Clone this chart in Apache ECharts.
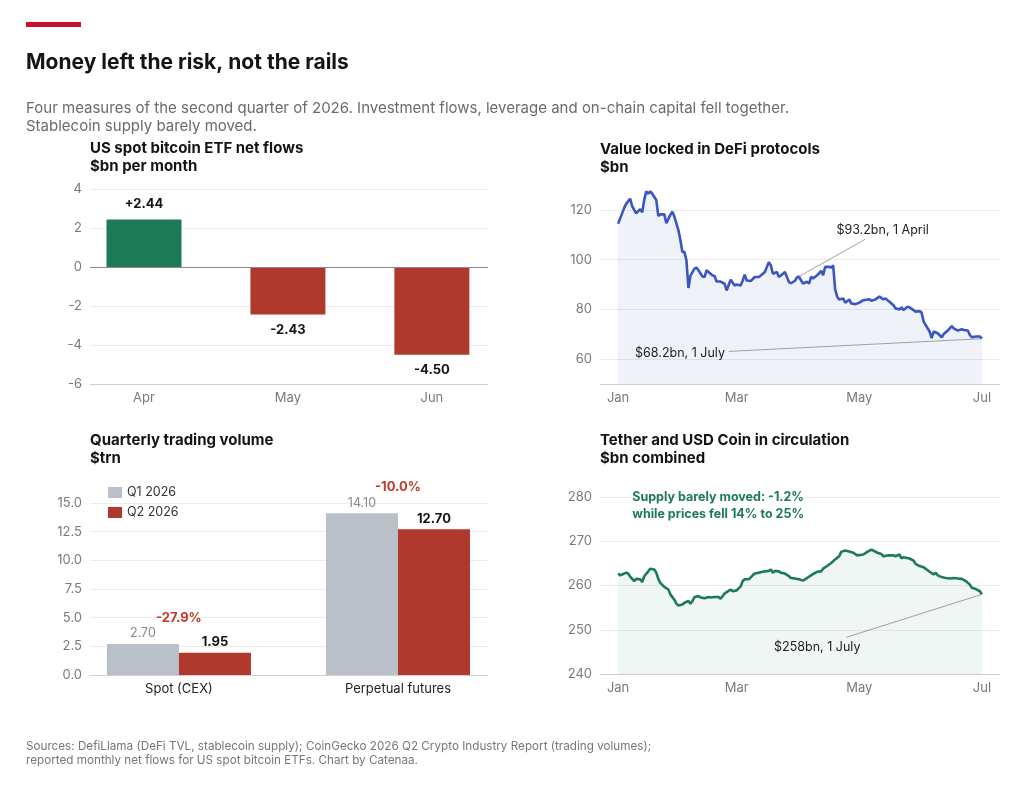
<!DOCTYPE html>
<html>
<head>
<meta charset="utf-8">
<title>Money left the risk, not the rails</title>
<style>
  html, body { margin: 0; padding: 0; background: #fff; }
  #main { width: 1024px; height: 791px; }
</style>
</head>
<body>
<div id="main"></div>
<script src="https://cdn.jsdelivr.net/npm/echarts@6/dist/echarts.min.js"></script>
<script>
// ETF net flows, $bn per month
var etfMonths = ['Apr', 'May', 'Jun'];
var etfFlows = [2.44, -2.43, -4.50];

// DeFi TVL, $bn (day = days since 1 Jan 2026)
var tvlDays = [0,2,3,4,6,7,9,11,12,13,14,15,16,17,19,20,21,23,24,26,27,28,30,31,32,33,34,35,36,38,39,40,42,43,44,46,47,48,49,51,53,54,56,58,59,61,62,63,64,66,68,70,71,73,75,76,77,79,80,81,83,85,86,88,89,90,91,92,94,95,96,97,99,100,101,102,103,105,106,107,108,109,110,112,113,115,116,118,120,122,125,126,128,130,132,133,135,137,138,140,141,142,144,145,147,148,150,151,152,154,155,156,157,159,161,162,164,166,167,169,171,172,174,175,176,178,180,181];
var tvlValues = [114.4,118.6,120.7,122.4,124.5,121.5,118.6,120.3,119.0,124.0,127.4,126.5,127.4,126.5,124.0,117.6,118.2,118.2,114.6,118.0,119.3,117.3,111.9,107.8,103.1,103.1,99.7,88.6,93.6,96.4,96.8,95.7,93.2,93.0,95.7,94.3,93.6,93.4,91.2,91.2,90.3,87.6,91.9,89.6,90.0,89.6,91.6,94.0,91.6,91.4,93.0,93.0,93.6,95.0,99.0,97.7,94.3,95.0,93.0,93.6,95.0,91.0,90.5,91.5,92.8,93.2,91.7,90.4,91.1,90.4,93.1,92.4,93.7,94.4,95.5,93.7,97.1,97.1,96.8,97.7,88.0,85.1,84.0,84.4,82.7,84.0,82.4,82.1,82.7,83.7,84.1,83.5,84.0,85.1,84.0,84.4,83.1,81.7,80.4,80.0,80.8,79.7,81.1,80.8,79.7,79.1,79.3,78.7,75.1,72.4,71.1,68.4,71.1,70.4,68.8,70.1,71.5,73.3,72.4,71.5,72.0,71.7,71.5,69.7,68.8,69.1,69.1,68.2];

// Quarterly trading volume, $trn
var volMarkets = ['Spot (CEX)', 'Perpetual futures'];
var volQ1 = [2.70, 14.10];
var volQ2 = [1.95, 12.70];
var volChange = ['-27.9%', '-10.0%'];

// USDT + USDC supply, $bn
var stableDays = [0,1,2,4,5,6,8,9,11,12,13,15,16,18,19,20,21,23,25,26,28,29,30,32,33,35,36,37,38,40,41,43,45,46,48,50,51,53,54,56,57,59,61,62,63,65,67,68,70,71,73,75,76,77,78,80,81,83,85,86,88,90,92,94,96,97,99,101,102,104,106,108,110,111,113,115,117,119,122,124,126,127,129,131,132,134,137,138,140,141,142,145,147,148,150,152,153,155,157,158,159,161,163,165,167,169,171,173,175,176,178,180,181];
var stableValues = [262.7,262.3,262.5,262.9,262.7,262.0,261.0,261.5,261.4,260.8,262.1,263.2,263.8,263.6,262.9,261.5,260.6,259.7,259.1,258.0,256.8,255.9,255.5,255.7,256.1,256.5,255.9,256.5,257.4,257.6,257.3,257.1,257.4,257.3,257.4,257.4,257.0,258.2,258.5,259.1,258.7,258.9,259.8,261.0,261.4,261.4,262.3,262.7,262.9,263.0,263.2,263.3,263.6,262.9,263.3,263.2,262.9,262.7,262.1,261.7,261.6,261.4,261.1,261.7,262.3,262.6,263.1,263.2,263.8,264.4,265.1,265.9,266.6,267.6,267.9,267.7,267.4,266.8,267.0,267.6,268.1,267.9,267.4,267.1,266.6,266.8,266.8,266.6,267.0,266.1,266.4,266.1,265.6,264.9,264.4,264.1,263.8,263.1,262.5,262.9,262.3,261.9,261.7,261.6,261.7,261.6,261.5,261.0,260.2,259.5,259.2,258.7,258.0];

var monthTicks = [0, 59, 120, 181];
var monthNames = ['Jan', 'Mar', 'May', 'Jul'];

var FONT = 'Inter, "Noto Sans", sans-serif';
var GREEN = '#1d7a56';
var RED = '#b0392e';
var GREY_BAR = '#b9c0c9';
var BLUE = '#3b56c0';
var GRID_LINE = '#ececec';
var AXIS_TEXT = '#7a7a7a';

function pairs(xs, ys) {
    return xs.map(function (x, i) { return [x, ys[i]]; });
}
function indexed(ys) {
    return ys.map(function (y, i) { return [i, y]; });
}

var myChart = echarts.init(document.getElementById('main'), null, { renderer: 'canvas' });

var axisLabelStyle = { color: AXIS_TEXT, fontSize: 13, fontFamily: FONT };

var dayAxis = function (idx) {
    return {
        type: 'value', gridIndex: idx, min: -9, max: 190,
        axisLine: { show: true, onZero: false, lineStyle: { color: '#cfcfcf' } },
        axisTick: { show: false },
        splitLine: { show: false },
        axisLabel: {
            color: AXIS_TEXT, fontSize: 13, fontFamily: FONT, margin: 8,
            customValues: monthTicks,
            formatter: function (v) {
                var i = monthTicks.indexOf(Math.round(v));
                return i >= 0 ? monthNames[i] : '';
            }
        }
    };
};

// category positions on a value axis, so the bars sit where the reference puts them
var namedAxis = function (idx, names, min, max, color) {
    return {
        type: 'value', gridIndex: idx, min: min, max: max,
        axisLine: { show: true, onZero: false, lineStyle: { color: '#cfcfcf' } },
        axisTick: { show: false },
        splitLine: { show: false },
        axisLabel: {
            color: color, fontSize: 13, fontFamily: FONT, margin: 8,
            customValues: names.map(function (n, i) { return i; }),
            formatter: function (v) {
                var i = Math.round(v);
                return names[i] !== undefined ? names[i] : '';
            }
        }
    };
};

var valueAxis = function (idx, min, max, interval, label, lineColor) {
    return {
        type: 'value', gridIndex: idx, min: min, max: max, interval: interval,
        axisLine: { show: false, onZero: false },
        axisTick: { show: false },
        axisLabel: label,
        splitLine: { lineStyle: { color: lineColor || GRID_LINE } }
    };
};

var panelTitle = function (left, top, text) {
    return {
        text: text, left: left, top: top, padding: 0,
        textStyle: { fontFamily: FONT, fontSize: 15, fontWeight: 700, color: '#141414', lineHeight: 17.5 }
    };
};

option = {
    animation: false,
    backgroundColor: '#fff',
    graphic: [{
        type: 'rect', left: 26, top: 22,
        shape: { width: 55, height: 5 },
        style: { fill: '#c8102e' }
    }],
    title: [
        {
            text: 'Money left the risk, not the rails', left: 26, top: 52, padding: 0,
            textStyle: { fontFamily: FONT, fontSize: 21, fontWeight: 700, color: '#141414' }
        },
        {
            text: 'Four measures of the second quarter of 2026. Investment flows, leverage and on-chain capital fell together.\nStablecoin supply barely moved.',
            left: 26, top: 99, padding: 0,
            textStyle: { fontFamily: FONT, fontSize: 15, fontWeight: 400, color: '#6b6b6b', lineHeight: 18 }
        },
        panelTitle(90, 140, 'US spot bitcoin ETF net flows\n$bn per month'),
        panelTitle(600, 141, 'Value locked in DeFi protocols\n$bn'),
        panelTitle(90, 432, 'Quarterly trading volume\n$trn'),
        panelTitle(600, 432, 'Tether and USD Coin in circulation\n$bn combined'),
        {
            text: 'Sources: DefiLlama (DeFi TVL, stablecoin supply); CoinGecko 2026 Q2 Crypto Industry Report (trading volumes);\nreported monthly net flows for US spot bitcoin ETFs. Chart by Catenaa.',
            left: 26, top: 739, padding: 0,
            textStyle: { fontFamily: FONT, fontSize: 11.7, fontWeight: 400, color: '#777', lineHeight: 14 }
        }
    ],
    legend: {
        data: ['Q1 2026', 'Q2 2026'],
        orient: 'vertical', left: 108, top: 486, padding: 0,
        itemWidth: 14, itemHeight: 11, itemGap: 7,
        icon: 'rect',
        textStyle: { fontFamily: FONT, fontSize: 12.5, color: '#333' }
    },
    grid: [
        { left: 90, right: 536, top: 189, bottom: 407 },
        { left: 600, right: 24, top: 185, bottom: 407 },
        { left: 90, right: 536, top: 503, bottom: 116 },
        { left: 600, right: 24, top: 497, bottom: 117 }
    ],
    xAxis: [
        namedAxis(0, etfMonths, -0.375, 2.39, AXIS_TEXT),
        dayAxis(1),
        namedAxis(2, volMarkets, -0.406, 1.411, '#222'),
        dayAxis(3)
    ],
    yAxis: [
        valueAxis(0, -6, 4, 2, axisLabelStyle),
        valueAxis(1, 50, 130, 10, {
            color: AXIS_TEXT, fontSize: 13, fontFamily: FONT,
            formatter: function (v) { return v % 20 === 0 ? v : ''; }
        }, ['rgba(0,0,0,0)', GRID_LINE]),
        valueAxis(2, 0, 15, 2.5, {
            color: AXIS_TEXT, fontSize: 13, fontFamily: FONT,
            formatter: function (v) { return v.toFixed(1); }
        }),
        valueAxis(3, 240, 280, 10, axisLabelStyle)
    ],
    series: [
        {
            name: 'ETF net flows', type: 'bar', xAxisIndex: 0, yAxisIndex: 0,
            barWidth: 75,
            data: etfFlows.map(function (v, i) {
                return {
                    value: [i, v],
                    itemStyle: { color: v >= 0 ? GREEN : RED },
                    label: { position: v >= 0 ? 'top' : 'bottom' }
                };
            }),
            label: {
                show: true, distance: 9,
                fontFamily: FONT, fontSize: 13, fontWeight: 700, color: '#141414',
                formatter: function (p) { var v = p.value[1]; return (v > 0 ? '+' : '') + v.toFixed(2); }
            },
            markLine: {
                silent: true, symbol: 'none', label: { show: false },
                lineStyle: { color: '#8a8a8a', type: 'solid', width: 1.2 },
                data: [{ yAxis: 0 }]
            }
        },
        {
            name: 'DeFi TVL', type: 'line', xAxisIndex: 1, yAxisIndex: 1,
            data: pairs(tvlDays, tvlValues),
            showSymbol: false, symbol: 'none',
            lineStyle: { color: BLUE, width: 2.6 },
            itemStyle: { color: BLUE },
            areaStyle: { color: 'rgba(59,86,192,0.11)', origin: 'start' },
            markLine: {
                silent: true, symbol: 'none', label: { show: false },
                lineStyle: { color: '#8a8a8a', type: 'solid', width: 0.8 },
                data: [
                    [{ coord: [90, 93.2] }, { coord: [123, 108.2] }],
                    [{ coord: [55, 63.1] }, { coord: [181, 68.2] }]
                ]
            },
            markPoint: {
                silent: true, symbol: 'circle', symbolSize: 1,
                itemStyle: { color: 'rgba(0,0,0,0)' },
                label: { show: true, position: 'inside', fontFamily: FONT, fontSize: 12.5, color: '#222' },
                data: [
                    { coord: [131.6, 112], value: '$93.2bn, 1 April', label: { formatter: '$93.2bn, 1 April' } },
                    { coord: [30.8, 62.4], value: '$68.2bn, 1 July', label: { formatter: '$68.2bn, 1 July' } }
                ]
            }
        },
        {
            name: 'Q1 2026', type: 'bar', xAxisIndex: 2, yAxisIndex: 2,
            barWidth: 72, barGap: '0%',
            data: indexed(volQ1),
            itemStyle: { color: GREY_BAR },
            label: {
                show: true, position: 'top', distance: 4,
                fontFamily: FONT, fontSize: 12.5, color: '#8a8a8a',
                formatter: function (p) { return p.value[1].toFixed(2); }
            },
            // change labels sit over the middle of each pair (half a bar to the right of Q1)
            markPoint: {
                silent: true, symbol: 'circle', symbolSize: 1,
                itemStyle: { color: 'rgba(0,0,0,0)' },
                label: {
                    show: true, position: 'inside', offset: [36, -26],
                    fontFamily: FONT, fontSize: 13, fontWeight: 700, color: '#c0392b'
                },
                data: volChange.map(function (t, i) {
                    return { coord: [i, volQ1[i]], value: t, label: { formatter: t } };
                })
            }
        },
        {
            name: 'Q2 2026', type: 'bar', xAxisIndex: 2, yAxisIndex: 2,
            barWidth: 72, barGap: '0%',
            data: indexed(volQ2),
            itemStyle: { color: RED },
            label: {
                show: true, position: 'top', distance: 4,
                fontFamily: FONT, fontSize: 13, fontWeight: 700, color: '#141414',
                formatter: function (p) { return p.value[1].toFixed(2); }
            }
        },
        {
            name: 'Stablecoin supply', type: 'line', xAxisIndex: 3, yAxisIndex: 3,
            data: pairs(stableDays, stableValues),
            showSymbol: false, symbol: 'none',
            lineStyle: { color: GREEN, width: 2.6 },
            itemStyle: { color: GREEN },
            areaStyle: { color: 'rgba(29,122,86,0.1)', origin: 'start' },
            markLine: {
                silent: true, symbol: 'none', label: { show: false },
                lineStyle: { color: '#8a8a8a', type: 'solid', width: 0.8 },
                data: [
                    [{ coord: [113.6, 248.3] }, { coord: [181, 258.0] }]
                ]
            },
            markPoint: {
                silent: true, symbol: 'circle', symbolSize: 1,
                itemStyle: { color: 'rgba(0,0,0,0)' },
                data: [
                    {
                        coord: [99.1, 246], value: '$258bn, 1 July',
                        label: { show: true, position: 'inside', formatter: '$258bn, 1 July', fontFamily: FONT, fontSize: 12.5, color: '#222' }
                    },
                    {
                        coord: [6.8, 278.1], value: 'note',
                        label: {
                            show: true, position: 'right', distance: 0,
                            formatter: 'Supply barely moved: -1.2%\nwhile prices fell 14% to 25%',
                            fontFamily: FONT, fontSize: 12.5, fontWeight: 700, color: GREEN, lineHeight: 17
                        }
                    }
                ]
            }
        }
    ]
};
myChart.setOption(option);
</script>
</body>
</html>
